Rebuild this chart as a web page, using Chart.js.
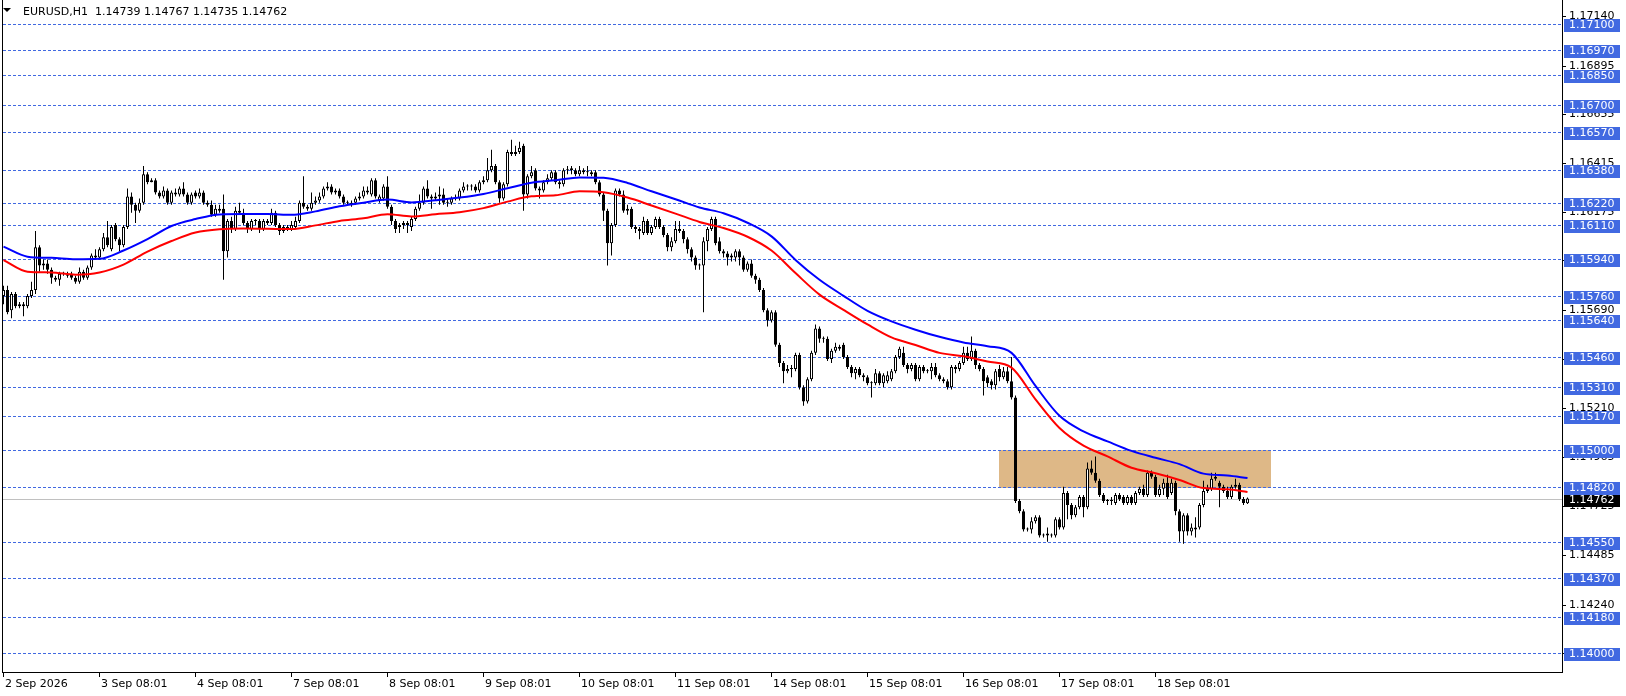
<!DOCTYPE html>
<html><head><meta charset="utf-8">
<style>html,body{margin:0;padding:0;background:#fff;overflow:hidden}canvas{display:block}</style>
</head><body>
<canvas id="c" width="1626" height="696"></canvas>
<script src="https://cdn.jsdelivr.net/npm/chart.js@4.4.0/dist/chart.umd.min.js"></script>
<script>
const symbolTitle = 'EURUSD,H1';
const opens = [
1.1576,1.1579,1.1569,1.1577,1.1572,1.1571,1.1571,1.1576,1.1579,1.1600,
1.1591,1.1592,1.1589,1.1585,1.1584,1.1587,1.1587,1.1587,1.1585,1.1583,
1.1588,1.1585,1.1590,1.1596,1.1595,1.1599,1.1605,1.1599,1.1611,1.1604,
1.1601,1.1610,1.1625,1.1621,1.1618,1.1622,1.1636,1.1632,1.1633,1.1627,
1.1625,1.1628,1.1622,1.1627,1.1626,1.1629,1.1626,1.1622,1.1627,1.1625,
1.1627,1.1622,1.1621,1.1616,1.1619,1.1619,1.1598,1.1613,1.1609,1.1618,
1.1617,1.1612,1.1609,1.1613,1.1613,1.1609,1.1613,1.1612,1.1617,1.1611,
1.1608,1.1610,1.1609,1.1610,1.1613,1.1622,1.1620,1.1619,1.1622,1.1623,
1.1625,1.1629,1.1630,1.1627,1.1628,1.1625,1.1622,1.1621,1.1622,1.1624,
1.1625,1.1628,1.1626,1.1633,1.1623,1.1624,1.1630,1.1620,1.1613,1.1610,
1.1611,1.1612,1.1610,1.1614,1.1619,1.1622,1.1629,1.1625,1.1624,1.1625,
1.1626,1.1622,1.1622,1.1624,1.1624,1.1628,1.1630,1.1630,1.1630,1.1628,
1.1632,1.1633,1.1638,1.1640,1.1632,1.1624,1.1631,1.1647,1.1646,1.1647,
1.1650,1.1626,1.1635,1.1638,1.1629,1.1628,1.1632,1.1634,1.1637,1.1632,
1.1631,1.1638,1.1638,1.1638,1.1636,1.1638,1.1637,1.1637,1.1637,1.1632,
1.1626,1.1618,1.1602,1.1611,1.1628,1.1626,1.1618,1.1619,1.1610,1.1609,
1.1607,1.1613,1.1607,1.1610,1.1614,1.1610,1.1606,1.1600,1.1603,1.1609,
1.1608,1.1604,1.1599,1.1595,1.1591,1.1591,1.1603,1.1609,1.1614,1.1603,
1.1598,1.1597,1.1595,1.1595,1.1598,1.1595,1.1589,1.1592,1.1586,1.1584,
1.1579,1.1569,1.1564,1.1568,1.1552,1.1543,1.1539,1.1540,1.1540,1.1547,
1.1531,1.1524,1.1535,1.1548,1.1560,1.1555,1.1555,1.1545,1.1549,1.1551,
1.1552,1.1546,1.1541,1.1538,1.1540,1.1537,1.1536,1.1533,1.1533,1.1538,
1.1533,1.1534,1.1535,1.1539,1.1546,1.1548,1.1542,1.1540,1.1542,1.1535,
1.1541,1.1539,1.1539,1.1541,1.1537,1.1535,1.1534,1.1531,1.1541,1.1540,
1.1543,1.1548,1.1545,1.1549,1.1542,1.1540,1.1536,1.1534,1.1532,1.1540,
1.1536,1.1539,1.1534,1.1526,1.1475,1.1470,1.1461,1.1461,1.1465,1.1467,
1.1458,1.1459,1.1458,1.1458,1.1466,1.1462,1.1479,1.1473,1.1468,1.1472,
1.1477,1.1472,1.1491,1.1489,1.1485,1.1478,1.1475,1.1475,1.1474,1.1478,
1.1477,1.1474,1.1477,1.1474,1.1479,1.1481,1.1478,1.1489,1.1487,1.1478,
1.1481,1.1484,1.1479,1.1484,1.1470,1.1460,1.1468,1.1460,1.1461,1.1462,
1.1473,1.1480,1.1481,1.1486,1.1484,1.1482,1.1480,1.1477,1.1482,1.1483,
1.1476,1.14739];
const highs = [
1.1581,1.1581,1.1578,1.1578,1.1573,1.1573,1.1577,1.1583,1.1608,1.1601,
1.1594,1.1594,1.1590,1.1586,1.1588,1.1588,1.1588,1.1588,1.1586,1.1590,
1.1589,1.1591,1.1597,1.1599,1.1600,1.1607,1.1613,1.1611,1.1612,1.1605,
1.1611,1.1629,1.1627,1.1622,1.1624,1.1640,1.1637,1.1634,1.1634,1.1628,
1.1630,1.1629,1.1628,1.1629,1.1630,1.1632,1.1627,1.1627,1.1628,1.1629,
1.1628,1.1623,1.1623,1.1621,1.1621,1.1626,1.1614,1.1615,1.1620,1.1622,
1.1619,1.1613,1.1614,1.1614,1.1614,1.1614,1.1614,1.1619,1.1618,1.1612,
1.1611,1.1611,1.1613,1.1615,1.1623,1.1635,1.1621,1.1627,1.1625,1.1627,
1.1630,1.1632,1.1631,1.1629,1.1629,1.1626,1.1623,1.1623,1.1625,1.1627,
1.1630,1.1630,1.1634,1.1634,1.1626,1.1631,1.1635,1.1621,1.1614,1.1612,
1.1613,1.1613,1.1615,1.1620,1.1626,1.1630,1.1633,1.1626,1.1627,1.1630,
1.1629,1.1624,1.1625,1.1626,1.1629,1.1632,1.1631,1.1631,1.1631,1.1633,
1.1635,1.1644,1.1648,1.1641,1.1633,1.1632,1.1648,1.1653,1.1650,1.1652,
1.1651,1.1636,1.1640,1.1639,1.1630,1.1633,1.1636,1.1638,1.1638,1.1633,
1.1639,1.1640,1.1640,1.1639,1.1640,1.1639,1.1640,1.1638,1.1638,1.1633,
1.1627,1.1619,1.1612,1.1629,1.1629,1.1628,1.1621,1.1620,1.1611,1.1610,
1.1615,1.1614,1.1611,1.1615,1.1615,1.1611,1.1607,1.1605,1.1613,1.1613,
1.1609,1.1605,1.1600,1.1596,1.1592,1.1605,1.1610,1.1615,1.1615,1.1605,
1.1599,1.1598,1.1597,1.1599,1.1599,1.1596,1.1593,1.1594,1.1587,1.1585,
1.1580,1.1570,1.1569,1.1569,1.1553,1.1544,1.1542,1.1542,1.1548,1.1548,
1.1532,1.1536,1.1549,1.1562,1.1561,1.1556,1.1556,1.1550,1.1553,1.1552,
1.1553,1.1547,1.1542,1.1541,1.1541,1.1538,1.1537,1.1534,1.1540,1.1539,
1.1538,1.1539,1.1540,1.1547,1.1551,1.1551,1.1543,1.1543,1.1543,1.1542,
1.1542,1.1540,1.1543,1.1543,1.1538,1.1536,1.1535,1.1542,1.1542,1.1544,
1.1551,1.1551,1.1556,1.1550,1.1543,1.1541,1.1537,1.1535,1.1540,1.1542,
1.1541,1.1541,1.1546,1.1527,1.1476,1.1471,1.1462,1.1467,1.1468,1.1468,
1.1459,1.1462,1.1459,1.1467,1.1467,1.1482,1.1480,1.1474,1.1473,1.1478,
1.1478,1.1494,1.1495,1.1497,1.1486,1.1479,1.1476,1.1477,1.1479,1.1479,
1.1478,1.1478,1.1478,1.1480,1.1482,1.1483,1.1490,1.1490,1.1488,1.1483,
1.1486,1.1488,1.1486,1.1485,1.1471,1.1469,1.1469,1.1464,1.1467,1.1474,
1.1485,1.1483,1.1489,1.1489,1.1485,1.1483,1.1482,1.1483,1.1486,1.1484,
1.1477,1.14767];
const lows = [
1.1572,1.1567,1.1565,1.1570,1.1570,1.1566,1.1570,1.1575,1.1577,1.1588,
1.1589,1.1587,1.1582,1.1583,1.1581,1.1586,1.1585,1.1584,1.1582,1.1582,
1.1584,1.1584,1.1589,1.1594,1.1594,1.1598,1.1600,1.1598,1.1603,1.1598,
1.1600,1.1609,1.1617,1.1612,1.1617,1.1621,1.1631,1.1632,1.1626,1.1624,
1.1624,1.1621,1.1621,1.1625,1.1625,1.1625,1.1621,1.1621,1.1624,1.1624,
1.1621,1.1620,1.1615,1.1615,1.1617,1.1584,1.1595,1.1607,1.1608,1.1616,
1.1611,1.1607,1.1608,1.1611,1.1607,1.1608,1.1611,1.1611,1.1610,1.1606,
1.1607,1.1608,1.1608,1.1609,1.1612,1.1619,1.1618,1.1618,1.1621,1.1622,
1.1624,1.1628,1.1626,1.1626,1.1624,1.1621,1.1621,1.1620,1.1621,1.1623,
1.1624,1.1626,1.1625,1.1624,1.1622,1.1623,1.1619,1.1611,1.1607,1.1607,
1.1609,1.1607,1.1608,1.1613,1.1618,1.1621,1.1624,1.1619,1.1623,1.1621,
1.1621,1.1620,1.1621,1.1623,1.1623,1.1627,1.1628,1.1628,1.1627,1.1627,
1.1631,1.1632,1.1637,1.1631,1.1622,1.1623,1.1630,1.1645,1.1645,1.1646,
1.1618,1.1624,1.1634,1.1628,1.1624,1.1627,1.1631,1.1633,1.1631,1.1629,
1.1630,1.1636,1.1636,1.1635,1.1635,1.1636,1.1635,1.1635,1.1631,1.1625,
1.1613,1.1591,1.1596,1.1610,1.1625,1.1617,1.1616,1.1609,1.1607,1.1604,
1.1606,1.1606,1.1606,1.1609,1.1609,1.1605,1.1598,1.1598,1.1602,1.1607,
1.1602,1.1597,1.1593,1.1589,1.1589,1.1568,1.1598,1.1608,1.1601,1.1597,
1.1595,1.1591,1.1593,1.1593,1.1591,1.1588,1.1588,1.1585,1.1582,1.1578,
1.1568,1.1561,1.1563,1.1551,1.1541,1.1533,1.1538,1.1536,1.1539,1.1530,
1.1522,1.1523,1.1534,1.1547,1.1553,1.1553,1.1544,1.1543,1.1548,1.1549,
1.1545,1.1540,1.1536,1.1535,1.1536,1.1534,1.1532,1.1526,1.1532,1.1532,
1.1531,1.1533,1.1534,1.1538,1.1545,1.1541,1.1538,1.1539,1.1534,1.1534,
1.1538,1.1538,1.1535,1.1536,1.1534,1.1533,1.1530,1.1530,1.1538,1.1539,
1.1542,1.1544,1.1544,1.1540,1.1539,1.1527,1.1531,1.1530,1.1530,1.1534,
1.1535,1.1533,1.1525,1.1474,1.1469,1.1460,1.1460,1.1459,1.1464,1.1457,
1.1457,1.1455,1.1457,1.1457,1.1461,1.1461,1.1466,1.1466,1.1467,1.1471,
1.1467,1.1471,1.1488,1.1484,1.1477,1.1474,1.1473,1.1473,1.1473,1.1475,
1.1473,1.1473,1.1473,1.1473,1.1478,1.1477,1.1477,1.1486,1.1477,1.1477,
1.1478,1.1476,1.1478,1.1468,1.1455,1.1454,1.1458,1.1458,1.1457,1.1461,
1.1472,1.1479,1.1480,1.1485,1.1472,1.1479,1.1476,1.1476,1.1481,1.1475,
1.1473,1.14735];
const closes = [
1.1579,1.1568,1.1577,1.1571,1.1571,1.1572,1.1576,1.1579,1.1600,1.1591,
1.1592,1.1589,1.1585,1.1584,1.1587,1.1587,1.1586,1.1585,1.1583,1.1588,
1.1585,1.1590,1.1596,1.1595,1.1599,1.1605,1.1601,1.1610,1.1604,1.1601,
1.1610,1.1625,1.1621,1.1618,1.1622,1.1636,1.1632,1.1633,1.1627,1.1625,
1.1628,1.1622,1.1627,1.1626,1.1629,1.1626,1.1622,1.1626,1.1625,1.1627,
1.1622,1.1621,1.1616,1.1619,1.1618,1.1598,1.1613,1.1609,1.1618,1.1617,
1.1612,1.1609,1.1613,1.1613,1.1609,1.1613,1.1612,1.1617,1.1611,1.1608,
1.1610,1.1609,1.1611,1.1613,1.1622,1.1620,1.1619,1.1622,1.1623,1.1625,
1.1629,1.1630,1.1627,1.1628,1.1625,1.1622,1.1622,1.1622,1.1624,1.1625,
1.1628,1.1627,1.1633,1.1625,1.1625,1.1630,1.1620,1.1613,1.1609,1.1611,
1.1612,1.1611,1.1614,1.1619,1.1622,1.1629,1.1625,1.1624,1.1625,1.1626,
1.1622,1.1622,1.1624,1.1624,1.1628,1.1630,1.1630,1.1630,1.1628,1.1632,
1.1633,1.1638,1.1640,1.1632,1.1624,1.1631,1.1647,1.1646,1.1647,1.1649,
1.1626,1.1635,1.1637,1.1629,1.1628,1.1632,1.1634,1.1637,1.1632,1.1631,
1.1638,1.1638,1.1639,1.1636,1.1638,1.1637,1.1637,1.1636,1.1632,1.1626,
1.1618,1.1602,1.1611,1.1628,1.1626,1.1618,1.1619,1.1610,1.1609,1.1608,
1.1613,1.1607,1.1610,1.1614,1.1610,1.1606,1.1600,1.1603,1.1609,1.1608,
1.1604,1.1599,1.1595,1.1591,1.1591,1.1603,1.1609,1.1614,1.1602,1.1598,
1.1597,1.1595,1.1596,1.1598,1.1595,1.1589,1.1592,1.1586,1.1584,1.1579,
1.1569,1.1564,1.1568,1.1552,1.1543,1.1539,1.1540,1.1540,1.1547,1.1531,
1.1524,1.1535,1.1548,1.1560,1.1555,1.1555,1.1545,1.1549,1.1551,1.1550,
1.1546,1.1541,1.1538,1.1540,1.1537,1.1536,1.1533,1.1533,1.1538,1.1533,
1.1537,1.1537,1.1539,1.1546,1.1550,1.1542,1.1540,1.1542,1.1535,1.1541,
1.1539,1.1539,1.1541,1.1537,1.1535,1.1534,1.1531,1.1541,1.1540,1.1543,
1.1548,1.1545,1.1549,1.1542,1.1540,1.1534,1.1533,1.1532,1.1539,1.1536,
1.1539,1.1534,1.1526,1.1475,1.1470,1.1461,1.1461,1.1465,1.1467,1.1458,
1.1458,1.1458,1.1458,1.1466,1.1462,1.1479,1.1473,1.1468,1.1472,1.1477,
1.1472,1.1491,1.1489,1.1485,1.1478,1.1475,1.1475,1.1475,1.1478,1.1476,
1.1474,1.1477,1.1474,1.1479,1.1481,1.1478,1.1489,1.1487,1.1478,1.1481,
1.1484,1.1477,1.1484,1.1470,1.1460,1.1468,1.1460,1.1462,1.1462,1.1473,
1.1480,1.1481,1.1486,1.1487,1.1482,1.1480,1.1477,1.1482,1.1483,1.1476,
1.1474,1.14762];
const maBars = [0,6,12,18,24,30,36,42,48,54,60,66,72,78,84,90,96,102,108,114,120,126,132,138,144,150,156,162,168,174,180,186,192,198,204,210,216,222,228,234,240,246,252,258,264,270,276,282,288,294,300,306,311];
const blueMA = [1.16003,1.15954,1.15948,1.15941,1.15943,1.15984,1.16040,1.16105,1.16139,1.16162,1.16164,1.16164,1.16160,1.16177,1.16202,1.16220,1.16235,1.16221,1.16232,1.16245,1.16263,1.16291,1.16318,1.16330,1.16344,1.16342,1.16317,1.16276,1.16237,1.16196,1.16168,1.16121,1.16054,1.15938,1.15840,1.15761,1.15687,1.15635,1.15594,1.15559,1.15531,1.15513,1.15480,1.15317,1.15170,1.15093,1.15044,1.14997,1.14963,1.14932,1.14885,1.14876,1.14863];
const redMA = [1.15937,1.15880,1.15876,1.15865,1.15876,1.15915,1.15979,1.16031,1.16073,1.16089,1.16092,1.16091,1.16090,1.16108,1.16130,1.16143,1.16163,1.16152,1.16163,1.16173,1.16193,1.16225,1.16251,1.16256,1.16276,1.16271,1.16245,1.16206,1.16166,1.16125,1.16095,1.16052,1.15984,1.15873,1.15767,1.15692,1.15620,1.15556,1.15519,1.15480,1.15463,1.15437,1.15407,1.15251,1.15110,1.15023,1.14970,1.14914,1.14887,1.14854,1.14814,1.14808,1.14795];
const levels = [1.1710,1.1697,1.1685,1.1670,1.1657,1.1638,1.1622,1.1611,1.1594,1.1576,1.1564,1.1546,1.1531,1.1517,1.1500,1.1482,1.1455,1.1437,1.1418,1.1400];
const yTickValues = [1.17140,1.16895,1.16655,1.16415,1.16175,1.15935,1.15690,1.15450,1.15210,1.14965,1.14725,1.14485,1.14240,1.14000];
const xTickBars = [0,24,48,72,96,120,144,168,192,216,240,264,288];
const xTickLabels = ['2 Sep 2026','3 Sep 08:01','4 Sep 08:01','7 Sep 08:01','8 Sep 08:01','9 Sep 08:01','10 Sep 08:01','11 Sep 08:01','14 Sep 08:01','15 Sep 08:01','16 Sep 08:01','17 Sep 08:01','18 Sep 08:01'];
const zoneBars = [248.875, 316.875];
const zonePrices = [1.1500, 1.1482];

const FONT = '11px "DejaVu Sans"';
const last = closes.length - 1;
const bid = closes[last];
const idx = closes.map((_, i) => i);

const mt4 = {
  id: 'mt4',
  beforeDatasetsDraw(chart) {
    const {ctx, chartArea: a, scales: {x, y}} = chart;
    ctx.save();
    const zx1 = Math.round(x.getPixelForValue(zoneBars[0])), zx2 = Math.round(x.getPixelForValue(zoneBars[1]));
    const zy1 = Math.round(y.getPixelForValue(zonePrices[0])), zy2 = Math.round(y.getPixelForValue(zonePrices[1]));
    ctx.fillStyle = '#DEB887';
    ctx.fillRect(zx1, zy1, zx2 - zx1, zy2 - zy1 + 1);
    const by = Math.round(y.getPixelForValue(bid));
    ctx.fillStyle = '#C0C0C0';
    ctx.fillRect(a.left, by, a.right - a.left, 1);
    ctx.strokeStyle = '#4169E1';
    ctx.lineWidth = 1;
    ctx.setLineDash([3, 2]);
    levels.forEach(p => {
      const yy = Math.round(y.getPixelForValue(p)) + 0.5;
      ctx.beginPath(); ctx.moveTo(a.left + 1, yy); ctx.lineTo(a.right, yy); ctx.stroke();
    });
    ctx.restore();
  },
  afterDraw(chart) {
    const {ctx, chartArea: a, scales: {x, y}} = chart;
    ctx.save();
    ctx.fillStyle = '#000';
    ctx.fillRect(a.left, 0, 1, a.bottom + 1);
    ctx.fillRect(a.right, 0, 1, a.bottom + 1);
    ctx.fillRect(a.left, a.bottom, a.right - a.left + 1, 1);
    ctx.font = FONT;
    ctx.textBaseline = 'middle';
    ctx.textAlign = 'left';
    // y ticks
    yTickValues.forEach(v => {
      const yy = Math.round(y.getPixelForValue(v));
      ctx.fillStyle = '#000';
      ctx.fillRect(a.right + 1, yy, 3, 1);
      ctx.fillText(v.toFixed(5), a.right + 7, yy + 0.5);
    });
    // bid label
    ctx.fillStyle = '#000';
    ctx.fillRect(a.right + 2, by(y) - 5, 56, 13);
    ctx.fillStyle = '#fff';
    ctx.fillText(bid.toFixed(5), a.right + 7, by(y) + 1.5);
    // level labels
    levels.forEach(p => {
      const yy = Math.round(y.getPixelForValue(p));
      ctx.fillStyle = '#4169E1';
      ctx.fillRect(a.right + 2, yy - 5, 56, 13);
      ctx.fillStyle = '#fff';
      ctx.fillText(p.toFixed(5), a.right + 7, yy + 1.5);
    });
    // x ticks
    ctx.fillStyle = '#000';
    xTickBars.forEach((b, k) => {
      const xx = Math.floor(x.getPixelForValue(b));
      ctx.fillRect(xx, a.bottom + 1, 1, 4);
      ctx.fillText(xTickLabels[k], xx + 2, a.bottom + 12);
    });
    // title
    ctx.beginPath();
    ctx.moveTo(3, 8); ctx.lineTo(11, 8); ctx.lineTo(7, 12); ctx.closePath();
    ctx.fill();
    const t = symbolTitle + '  ' + [opens[last], highs[last], lows[last], closes[last]].map(v => v.toFixed(5)).join(' ');
    ctx.fillText(t, 23, 12);
    ctx.restore();
    function by(sc) { return Math.round(sc.getPixelForValue(bid)); }
  }
};

new Chart(document.getElementById('c'), {
  type: 'bar',
  data: {
    datasets: [
      {
        type: 'line', label: 'MA high', order: 0,
        data: maBars.map((b, k) => ({x: b, y: blueMA[k]})),
        borderColor: '#0000FF', borderWidth: 2, pointRadius: 0, cubicInterpolationMode: 'monotone', fill: false
      },
      {
        type: 'line', label: 'MA low', order: 0,
        data: maBars.map((b, k) => ({x: b, y: redMA[k]})),
        borderColor: '#FF0000', borderWidth: 2, pointRadius: 0, cubicInterpolationMode: 'monotone', fill: false
      },
      {
        label: 'body', order: 1, grouped: false,
        data: idx.map(i => ({x: i, y: [opens[i], closes[i]]})),
        backgroundColor: idx.map(i => closes[i] >= opens[i] ? '#FFFFFF' : '#000000'),
        borderColor: '#000000', borderWidth: 1, borderSkipped: false, inflateAmount: 0,
        barThickness: 3, minBarLength: 1
      },
      {
        label: 'wick', order: 2, grouped: false,
        data: idx.map(i => ({x: i, y: [lows[i], highs[i]]})),
        backgroundColor: '#000000', borderWidth: 0, inflateAmount: 0, barThickness: 1
      }
    ]
  },
  options: {
    responsive: false,
    animation: false,
    devicePixelRatio: 1,
    events: [],
    layout: {padding: {left: 2, right: 64, top: 0, bottom: 24}},
    plugins: {legend: {display: false}, tooltip: {enabled: false}, title: {display: false}},
    scales: {
      x: {type: 'linear', min: -0.375, max: 389.625, offset: false, display: false},
      y: {type: 'linear', min: 1.139079, max: 1.172182, display: false}
    }
  },
  plugins: [mt4]
});
</script>
</body></html>
